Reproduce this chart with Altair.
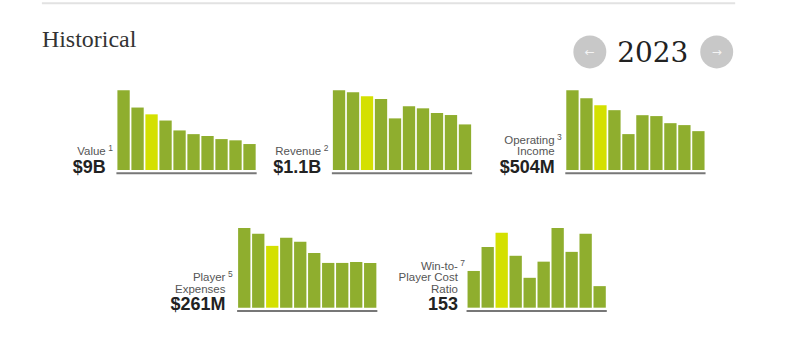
import altair as alt
import pandas as pd

# ---- data ----
years = ["2025", "2024", "2023", "2022", "2021", "2020", "2019", "2018", "2017", "2016"]
selected_year = "2023"
value_bn = [12.9, 10.1, 9.0, 8.0, 6.4, 5.8, 5.5, 5.0, 4.8, 4.2]
revenue_bn = [1.19, 1.16, 1.10, 1.06, 0.77, 0.95, 0.92, 0.85, 0.82, 0.68]
operating_income_m = [620, 558, 504, 465, 279, 426, 419, 364, 349, 302]
player_expenses_m = [337, 312, 261, 295, 278, 231, 189, 189, 193, 189]
win_to_cost_ratio = [75, 124, 153, 106, 61, 94, 163, 114, 151, 44]

GREEN = "#8fae2e"
HIGHLIGHT = "#d4e000"
AXIS = "#777777"
LABEL = "#555555"
DARK = "#222222"
SANS = "Liberation Sans"

one = pd.DataFrame({"k": [0]})


def txt(s, x, y, size, color, weight="normal", align="right",
        font=SANS, baseline="alphabetic"):
    return alt.Chart(one).mark_text(
        text=s, fontSize=size, color=color, fontWeight=weight,
        align=align, baseline=baseline, font=font
    ).encode(x=alt.value(x), y=alt.value(y))


def panel(values, lines, sup, big, offset, label_dx=-11, extra=None):
    W, H = 140, 80
    df = pd.DataFrame({"year": years, "v": values})
    bars = alt.Chart(df).mark_bar().encode(
        x=alt.X("year:N", sort=years, axis=None,
                scale=alt.Scale(range=[offset, offset + W],
                                paddingInner=0.12, paddingOuter=0.05)),
        y=alt.Y("v:Q", axis=None, scale=alt.Scale(nice=False, zero=True)),
        color=alt.when(alt.datum.year == selected_year)
        .then(alt.value(HIGHLIGHT)).otherwise(alt.value(GREEN)),
    )
    rule = alt.Chart(one).mark_rule(color=AXIS, strokeWidth=2).encode(
        x=alt.value(offset - 0.3), x2=alt.value(offset + W + 0.3),
        y=alt.value(83.3))
    layers = []
    if extra:
        layers += extra
    layers += [bars, rule]
    lx = offset + label_dx
    n = len(lines)
    base_ys = [65.0 - 11.4 * (n - 1 - i) for i in range(n)]
    for s, yy in zip(lines, base_ys):
        layers.append(txt(s, lx, yy, 11.5, LABEL))
    layers.append(txt(sup, lx + 2.5, base_ys[0] - 4, 8.5, LABEL, align="left"))
    layers.append(txt(big, lx, 82.5, 18, DARK, weight="bold"))
    return alt.layer(*layers).properties(width=offset + W, height=H)


# header elements, positioned relative to the first panel's plot area
header = [
    alt.Chart(one).mark_rect(opacity=0).encode(
        x=alt.value(-116), x2=alt.value(688),
        y=alt.value(-88.7), y2=alt.value(265.3)),
    alt.Chart(one).mark_rule(color="#e2e2e2", strokeWidth=2).encode(
        x=alt.value(-75), x2=alt.value(620), y=alt.value(-87.2)),
    txt("Historical", -75, -43.7, 24, "#333333", align="left",
        font="Liberation Serif"),
    alt.Chart(one).mark_circle(size=1090, color="#c8c8c8", opacity=1).encode(
        x=alt.value(474.3), y=alt.value(-38.4)),
    alt.Chart(one).mark_circle(size=1090, color="#c8c8c8", opacity=1).encode(
        x=alt.value(601.5), y=alt.value(-38.4)),
    txt("←", 474.3, -38.4, 12, "#f4f4f4", align="center",
        font="DejaVu Sans", baseline="middle"),
    txt("→", 601.5, -38.4, 12, "#f4f4f4", align="center",
        font="DejaVu Sans", baseline="middle"),
    txt("2023", 537.4, -28.7, 28, "#222222", align="center",
        font="DejaVu Serif"),
]

p1 = panel(value_bn, ["Value"], "1", "$9B", 0, extra=header)
p2 = panel(revenue_bn, ["Revenue"], "2", "$1.1B", 76)
p3 = panel(operating_income_m, ["Operating", "Income"], "3", "$504M", 94)
p4 = panel(player_expenses_m, ["Player", "Expenses"], "5", "$261M", 121,
           label_dx=-12)
p5 = panel(win_to_cost_ratio, ["Win-to-", "Player Cost", "Ratio"], "7", "153",
           90, label_dx=-9)

row1 = alt.hconcat(p1, p2, p3, spacing=0, bounds="flush")
row2 = alt.hconcat(p4, p5, spacing=0, bounds="flush")

# with flush bounds a nested row counts as zero height, so the row height
# (80) is folded into the spacing between the two rows
chart = alt.vconcat(row1, row2, spacing=138, bounds="flush").properties(
    padding=0
).configure_view(stroke="transparent")

chart.save("out.html", embed_options={"renderer": "svg", "actions": False})
